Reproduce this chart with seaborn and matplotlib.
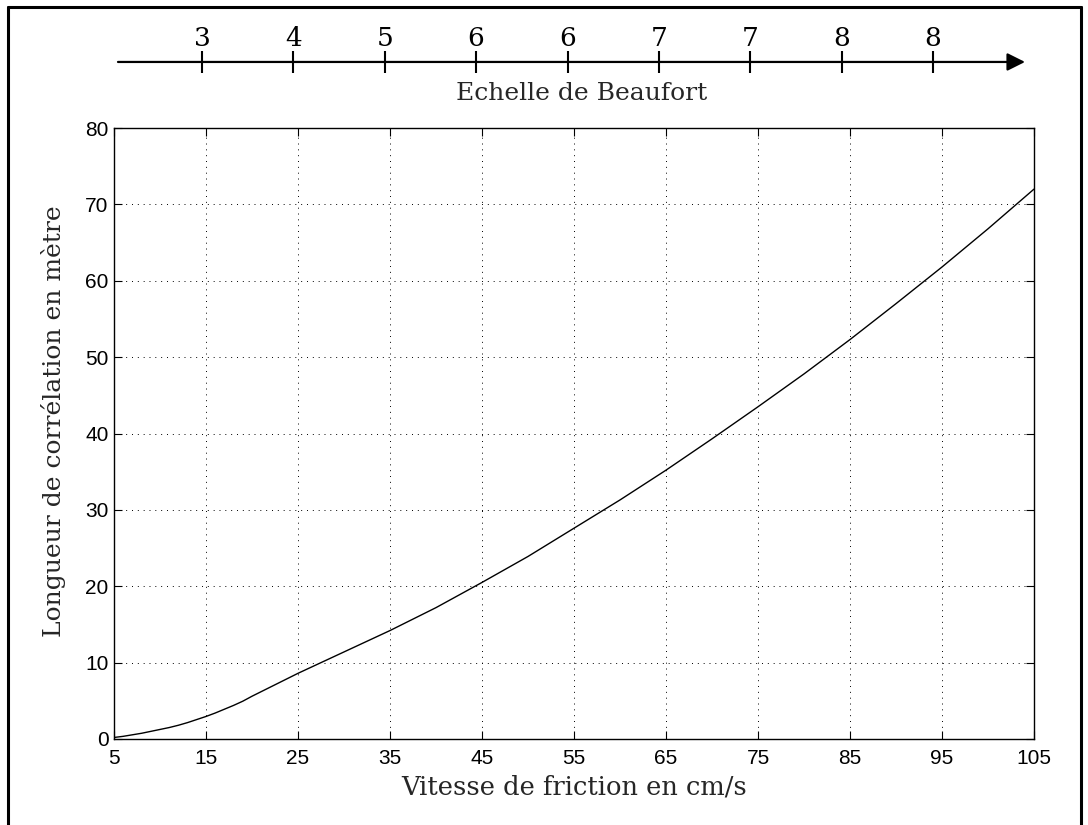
import matplotlib
matplotlib.use("Agg")
import matplotlib.pyplot as plt
from matplotlib.lines import Line2D
import seaborn as sns
import pandas as pd

# Data
friction_speed = [5, 6, 7, 8, 9, 10, 11, 12, 13, 14, 15, 16, 17, 18, 19, 20, 22.5, 25, 27.5, 30, 32.5, 35,
                  40, 45, 50, 55, 60, 65, 70, 75, 80, 85, 90, 95, 100, 105]
corr_length = [0.2, 0.35, 0.55, 0.75, 1.0, 1.25, 1.5, 1.8, 2.15, 2.55, 2.95, 3.4, 3.9, 4.4, 4.95, 5.6, 7.1, 8.6,
               10.0, 11.4, 12.8, 14.2, 17.2, 20.5, 23.9, 27.6, 31.3, 35.2, 39.3, 43.5, 47.8, 52.3, 57.0, 61.8, 66.8, 72.0]
beaufort_pos = [15, 25, 35, 45, 55, 65, 75, 85, 95]
beaufort_labels = ["3", "4", "5", "6", "6", "7", "7", "8", "8"]
x_ticks = [5, 15, 25, 35, 45, 55, 65, 75, 85, 95, 105]
y_ticks = [0, 10, 20, 30, 40, 50, 60, 70, 80]

sns.set_theme(style="white")
plt.rcParams["font.family"] = ["DejaVu Serif"]

W, H = 1088, 825
fig = plt.figure(figsize=(W / 100, H / 100), dpi=100)

# main axes
l, r, t, b = 114, 1034, 128, 739
ax = fig.add_axes([l / W, (H - b) / H, (r - l) / W, (b - t) / H])
df = pd.DataFrame({"x": friction_speed, "y": corr_length})
sns.lineplot(data=df, x="x", y="y", ax=ax, color="black", linewidth=1.0)
ax.set_xlim(5, 105)
ax.set_ylim(0, 80)
ax.set_xticks(x_ticks)
ax.set_yticks(y_ticks)
for lab in ax.get_xticklabels() + ax.get_yticklabels():
    lab.set_fontfamily("Liberation Sans")
    lab.set_fontsize(15)
ax.tick_params(axis="both", direction="in", length=6, width=0.8, colors="black",
               top=True, right=True, bottom=True, left=True)
ax.tick_params(axis="x", pad=7)
ax.tick_params(axis="y", pad=4)
for s in ax.spines.values():
    s.set_color("black")
    s.set_linewidth(1.0)
ax.grid(True, color="black", linestyle=(0, (1, 5)), linewidth=0.7)
ax.set_xlabel("Vitesse de friction en cm/s", fontsize=18.5, labelpad=5)
ax.set_ylabel("Longueur de corrélation en mètre", fontsize=18)
ax.yaxis.set_label_coords(-0.052, 0.52)

# Beaufort scale axes
bl, br, by = 118, 1025, 62
x0 = 15 - (202 - bl) / 9.1375
x1 = 15 + (br - 202) / 9.1375
axb = fig.add_axes([bl / W, (H - by) / H, (br - bl) / W, 0.0001])
axb.set_xlim(x0, x1)
axb.set_ylim(-1, 1)
for s in axb.spines.values():
    s.set_visible(False)
axb.set_yticks([])
axb.set_facecolor("none")
axb.annotate("", xy=(x1, 0), xytext=(x0, 0), xycoords="data",
             arrowprops=dict(arrowstyle="-|>,head_length=0.9,head_width=0.45",
                             color="black", lw=1.6, shrinkA=0, shrinkB=0),
             annotation_clip=False)
axb.set_xticks(beaufort_pos)
axb.set_xticklabels(beaufort_labels, fontsize=19)
axb.xaxis.set_ticks_position("top")
axb.tick_params(axis="x", direction="inout", length=16, width=1.5, pad=0,
                colors="black", labeltop=True, labelbottom=False, bottom=False, top=True)
fig.text(582 / W, (H - 94) / H, "Echelle de Beaufort", fontsize=18,
         ha="center", va="center")

# figure frame (left, top, right)
fl, ft, fr = 7.5, 6.5, 1081
fig.add_artist(Line2D([fl / W, fl / W], [0, (H - ft) / H], color="black", lw=2.2, transform=fig.transFigure))
fig.add_artist(Line2D([fl / W, fr / W], [(H - ft) / H, (H - ft) / H], color="black", lw=2.2, transform=fig.transFigure))
fig.add_artist(Line2D([fr / W, fr / W], [0, (H - ft) / H], color="black", lw=2.2, transform=fig.transFigure))

fig.savefig("out.png", dpi=100, facecolor="white")
